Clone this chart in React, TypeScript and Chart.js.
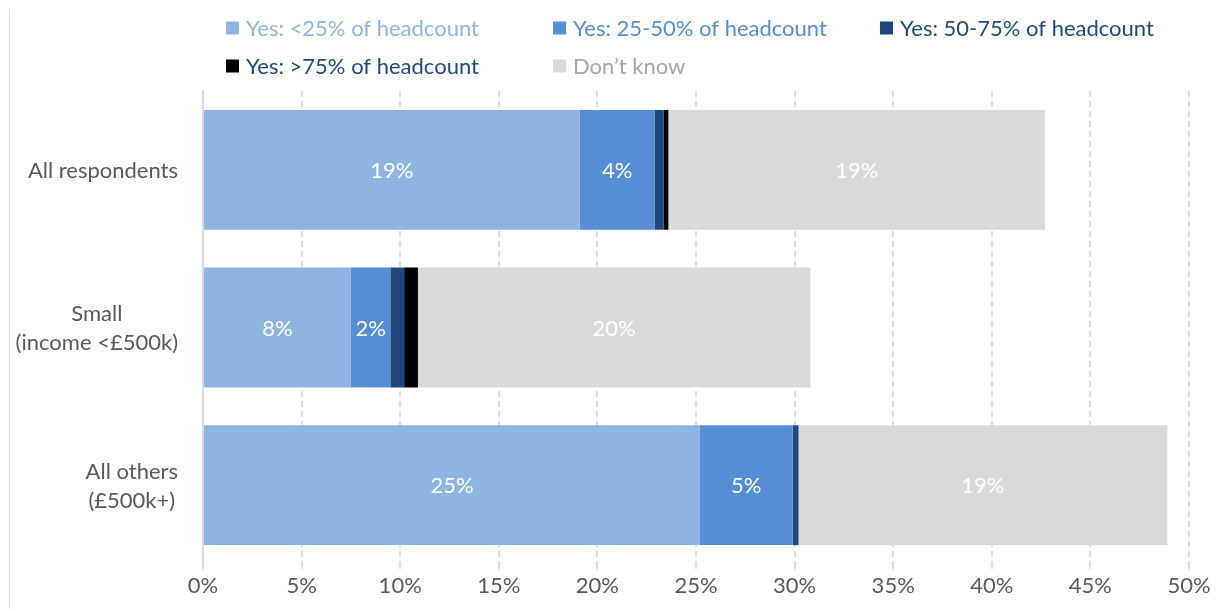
import React, { useEffect, useRef } from "react";
import { Chart, registerables } from "chart.js";

Chart.register(...registerables);

// ---------- data ----------
const categories: string[][] = [
  ["All respondents"],
  ["Small", "(income <£500k)"],
  ["All others", "(£500k+)"],
];
const seriesNames = [
  "Yes: <25% of headcount",
  "Yes: 25-50% of headcount",
  "Yes: 50-75% of headcount",
  "Yes: >75% of headcount",
  "Don\u2019t know",
];
const under25 = [19.1, 7.5, 25.2];
const from25to50 = [3.8, 2.0, 4.7];
const from50to75 = [0.45, 0.7, 0.3];
const over75 = [0.25, 0.7, 0];
const dontKnow = [19.1, 19.9, 18.7];
const xTickValues = [0, 5, 10, 15, 20, 25, 30, 35, 40, 45, 50];

// ---------- styles ----------
const FONT = "Lato, 'Open Sans', sans-serif";
const barColors = ["#8EB4E3", "#558ED5", "#1F497D", "#000000", "#D9D9D9"];
const legendTextColors = ["#8EB4E3", "#558ED5", "#1F497D", "#1F497D", "#A6A6A6"];
const legendCols = [226, 553, 880];
const legendRows = [28, 66];

const backgroundPlugin = {
  id: "bgFrame",
  beforeDraw(chart: any) {
    const ctx = chart.ctx;
    ctx.save();
    ctx.fillStyle = "#FFFFFF";
    ctx.fillRect(0, 0, chart.width, chart.height);
    ctx.strokeStyle = "#D9D9D9";
    ctx.lineWidth = 1;
    ctx.beginPath();
    ctx.moveTo(9.5, 10);
    ctx.lineTo(9.5, chart.height);
    ctx.stroke();
    ctx.restore();
  },
};

const legendPlugin = {
  id: "gridLegend",
  afterDraw(chart: any) {
    const ctx = chart.ctx;
    ctx.save();
    ctx.font = `22px ${FONT}`;
    ctx.textBaseline = "middle";
    ctx.textAlign = "left";
    chart.data.datasets.forEach((ds: any, i: number) => {
      const x = legendCols[i % 3];
      const y = legendRows[Math.floor(i / 3)];
      ctx.fillStyle = ds.backgroundColor;
      ctx.fillRect(x, y - 6.5, 13, 13);
      ctx.fillStyle = legendTextColors[i];
      ctx.fillText(ds.label, x + 20, y + 1);
    });
    ctx.restore();
  },
};

const dataLabelPlugin = {
  id: "segLabels",
  afterDatasetsDraw(chart: any) {
    const ctx = chart.ctx;
    ctx.save();
    ctx.font = `22px ${FONT}`;
    ctx.fillStyle = "#FFFFFF";
    ctx.textAlign = "center";
    ctx.textBaseline = "middle";
    chart.data.datasets.forEach((ds: any, i: number) => {
      const meta = chart.getDatasetMeta(i);
      meta.data.forEach((el: any, j: number) => {
        const v = ds.data[j];
        if (v < 1.5) return;
        const p = el.getCenterPoint();
        ctx.fillText(`${Math.round(v)}%`, p.x, p.y + 1);
      });
    });
    ctx.restore();
  },
};

const yLabelPlugin = {
  id: "yLabels",
  afterDraw(chart: any) {
    const ctx = chart.ctx;
    const yScale = chart.scales.y;
    const right = chart.chartArea.left - 25;
    const lh = 29;
    ctx.save();
    ctx.font = `22px ${FONT}`;
    ctx.fillStyle = "#595959";
    ctx.textAlign = "center";
    ctx.textBaseline = "middle";
    categories.forEach((lines, i) => {
      const cy = yScale.getPixelForTick(i);
      const w = Math.max(...lines.map((l) => ctx.measureText(l).width));
      const cx = right - w / 2;
      const startY = cy - ((lines.length - 1) * lh) / 2;
      lines.forEach((l, k) => ctx.fillText(l, cx, startY + k * lh + 1));
    });
    ctx.restore();
  },
};

export default function App() {
  const ref = useRef<HTMLCanvasElement | null>(null);

  useEffect(() => {
    if (!ref.current) return;
    const series = [under25, from25to50, from50to75, over75, dontKnow];
    const chart = new Chart(ref.current, {
      type: "bar",
      data: {
        labels: categories as any,
        datasets: series.map((d, i) => ({
          label: seriesNames[i],
          data: d,
          backgroundColor: barColors[i],
          borderWidth: 0,
          categoryPercentage: 1,
          barPercentage: 0.76,
        })),
      },
      options: {
        indexAxis: "y",
        animation: false,
        responsive: false,
        devicePixelRatio: 1,
        layout: { padding: { top: 91, right: 31, bottom: 0, left: 0 } },
        plugins: {
          legend: { display: false },
          tooltip: { enabled: false },
        },
        scales: {
          x: {
            stacked: true,
            min: 0,
            max: 50,
            afterBuildTicks: (s: any) => {
              s.ticks = xTickValues.map((v) => ({ value: v }));
            },
            ticks: {
              callback: (v: any) => `${v}%`,
              color: "#595959",
              font: { family: FONT, size: 22 },
              padding: 4,
              maxRotation: 0,
              autoSkip: false,
            },
            grid: {
              color: "#DDDDDD",
              lineWidth: 2,
              drawTicks: true,
              tickLength: 5,
              tickColor: "#DDDDDD",
              tickBorderDash: [6, 4],
            },
            border: { display: false, dash: [6, 4] },
            afterFit: (s: any) => {
              s.height = 45;
            },
          },
          y: {
            stacked: true,
            ticks: { display: false },
            grid: { display: false },
            border: { display: true, color: "#D9D9D9", width: 2 },
            afterFit: (s: any) => {
              s.width = 203;
            },
          },
        },
      },
      plugins: [backgroundPlugin, dataLabelPlugin, yLabelPlugin, legendPlugin],
    });
    return () => chart.destroy();
  }, []);

  return (
    <div style={{ position: "fixed", left: 0, top: 0, width: 1220, height: 609, background: "#fff" }}>
      <canvas ref={ref} width={1220} height={609} style={{ display: "block" }} />
    </div>
  );
}
